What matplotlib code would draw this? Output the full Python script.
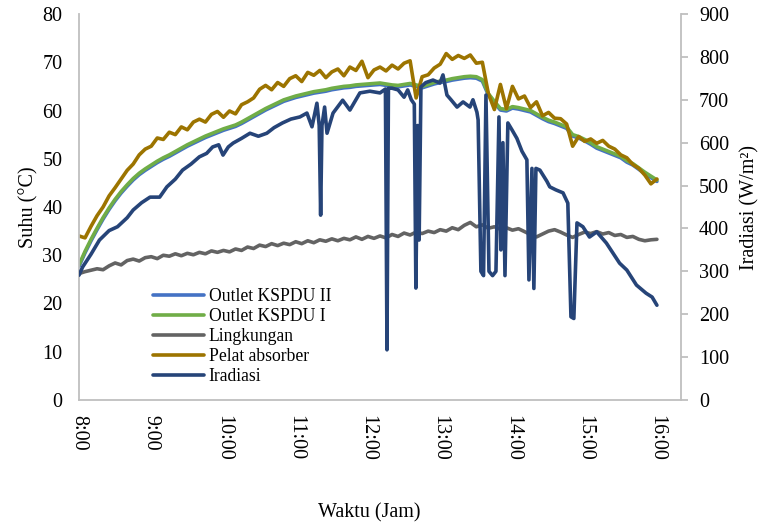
import matplotlib
matplotlib.use('Agg')
import matplotlib.pyplot as plt

plt.rcParams['font.family'] = ['Liberation Serif', 'DejaVu Serif']

# minutes after 8:00, 5 minute steps for the temperature series
t5 = list(range(0, 481, 5))

outlet2 = [27.7, 30.5, 33.0, 35.3, 37.5, 39.5, 41.3, 42.9, 44.3, 45.6, 46.7, 47.6,
           48.4, 49.2, 49.9, 50.5, 51.2, 51.9, 52.6, 53.2, 53.8, 54.4, 54.9, 55.4,
           55.9, 56.3, 56.7, 57.3, 58.0, 58.7, 59.4, 60.1, 60.7, 61.3, 61.9, 62.3,
           62.7, 63.0, 63.3, 63.6, 63.8, 64.0, 64.3, 64.5, 64.7, 64.8, 65.0, 65.1,
           65.2, 65.3, 65.4, 65.2, 65.0, 64.9, 65.1, 65.3, 65.0, 64.7, 65.1, 65.5,
           65.8, 66.0, 66.3, 66.5, 66.7, 66.8, 66.7, 66.1, 63.2, 61.6, 60.1, 59.9,
           60.5, 60.3, 60.0, 59.7, 59.0, 58.3, 57.7, 57.3, 56.8, 56.3, 54.7, 54.3,
           53.7, 53.0, 52.2, 51.7, 51.2, 50.7, 50.2, 49.3, 48.7, 47.8, 46.9, 46.1,
           45.3]

outlet1 = [28.0, 30.8, 33.3, 35.6, 37.8, 39.8, 41.6, 43.2, 44.6, 45.9, 47.0, 47.9,
           48.7, 49.5, 50.2, 50.8, 51.5, 52.2, 52.9, 53.5, 54.1, 54.7, 55.2, 55.7,
           56.2, 56.6, 57.0, 57.6, 58.3, 59.0, 59.7, 60.4, 61.0, 61.6, 62.2, 62.6,
           63.0, 63.3, 63.6, 63.9, 64.1, 64.3, 64.6, 64.8, 65.0, 65.1, 65.3, 65.4,
           65.5, 65.6, 65.7, 65.5, 65.3, 65.2, 65.4, 65.6, 65.3, 65.0, 65.4, 65.8,
           66.1, 66.3, 66.6, 66.8, 67.0, 67.1, 67.0, 66.4, 63.5, 61.9, 60.4, 60.2,
           60.8, 60.6, 60.3, 60.0, 59.3, 58.6, 58.0, 57.6, 57.1, 56.6, 55.0, 54.6,
           54.0, 53.3, 52.5, 52.0, 51.5, 51.0, 50.5, 49.6, 49.0, 48.1, 47.2, 46.4,
           45.6]

lingkungan = [26.2, 26.6, 26.9, 27.2, 27.0, 27.8, 28.4, 28.0, 28.9, 29.2, 28.8, 29.5,
              29.7, 29.3, 30.0, 29.8, 30.3, 29.9, 30.4, 30.1, 30.6, 30.3, 30.9, 30.6,
              31.0, 30.7, 31.3, 31.0, 31.7, 31.4, 32.1, 31.8, 32.4, 32.0, 32.5, 32.2,
              32.8, 32.4, 33.0, 32.6, 33.2, 32.9, 33.4, 33.0, 33.5, 33.2, 33.8, 33.3,
              33.9, 33.5, 34.0, 33.6, 34.3, 33.9, 34.6, 34.2, 34.8, 34.5, 35.0, 34.7,
              35.3, 35.0, 35.7, 35.3, 36.2, 36.8, 35.9, 36.3, 35.6, 35.9, 35.4, 35.7,
              35.2, 35.5, 34.9, 34.3, 33.8, 34.4, 35.0, 35.3, 34.8, 34.2, 33.7, 34.3,
              34.8, 34.5, 34.9, 34.4, 34.7, 34.1, 34.3, 33.7, 33.9, 33.3, 33.0, 33.2,
              33.3]

pelat = [34.0, 33.6, 36.0, 38.2, 40.0, 42.3, 44.0, 45.8, 47.6, 48.9, 50.8, 52.0,
         52.6, 54.3, 54.0, 55.5, 55.0, 56.6, 56.0, 57.6, 58.2, 57.6, 59.2, 59.8,
         58.6, 59.9, 59.3, 61.2, 61.8, 62.6, 64.4, 65.2, 64.3, 65.8, 65.0, 66.6,
         67.2, 66.0, 67.9, 67.3, 68.3, 66.8, 68.0, 68.6, 67.2, 69.0, 68.3, 70.2,
         66.8, 68.4, 69.0, 68.2, 69.4, 68.6, 69.8, 70.3, 62.6, 67.0, 67.4, 68.8,
         69.6, 71.8, 70.6, 71.4, 70.8, 71.5, 69.8, 70.0, 63.5, 60.2, 65.4, 60.4,
         65.0, 62.4, 63.0, 60.6, 61.8, 58.9, 59.6, 58.4, 58.3, 57.2, 52.6, 54.6,
         53.6, 54.1, 53.2, 53.8, 52.6, 52.0, 50.8, 50.2, 48.8, 48.0, 46.6, 44.8,
         45.8]

# irradiance, minutes after 8:00 and W/m2
irr_t = [0, 3, 10, 17, 25, 32, 40, 45, 52, 59, 67, 73, 80, 86, 93, 100, 106, 111,
         116, 119.6, 124, 128, 135, 142, 149, 156, 162, 169, 176, 183.5, 189.3,
         193.5, 197.6, 199.5, 200.7, 201.8, 204, 206, 211, 219, 225, 233.3, 241.6,
         250, 254.5, 255.8, 257, 260, 265, 270, 273, 276, 278.5, 279.8, 281.3,
         282.5, 284, 288, 294, 299.8, 302.3, 305.6, 309, 314, 319, 324.7, 327.2,
         330.5, 331.5, 333.8, 336, 338, 340.5, 343.5, 346.3, 348.8, 350.4, 352.1,
         353.8, 356.2, 359.6, 363.7, 367.9, 372, 373.7, 376.2, 377.8, 379.5, 382.8,
         388.6, 391, 396, 402, 406, 408.6, 411, 413.6, 418.5, 424, 430, 438, 449,
         455, 463, 471, 476, 480]
irr_v = [291, 310, 340, 373, 395, 404, 425, 443, 460, 473, 473, 497, 515, 536, 550,
         567, 575, 590, 595, 571, 590, 599, 610, 622, 615, 622, 635, 646, 655, 660,
         669, 637, 692, 640, 431, 640, 683, 622, 669, 699, 676, 716, 720, 716, 725,
         117, 727, 727, 723, 706, 723, 700, 690, 261, 640, 373, 730, 740, 746, 739,
         758, 711, 700, 683, 695, 683, 700, 671, 653, 300, 290, 711, 300, 290, 300,
         660, 350, 600, 290, 646, 630, 610, 580, 560, 280, 540, 260, 540, 536, 510,
         497, 490, 483, 459, 194, 190, 413, 404, 380, 392, 366, 319, 303, 268, 249,
         240, 221]

tick_pos = [0, 60, 120, 180, 240, 300, 360, 420, 480]
tick_lbl = ['8:00', '9:00', '10:00', '11:00', '12:00', '13:00', '14:00', '15:00', '16:00']

W, H = 759, 529
fig = plt.figure(figsize=(W / 100, H / 100), dpi=100)
ax = fig.add_axes([79 / W, 1 - 400 / H, (681 - 79) / W, (400 - 14) / H])
ax2 = ax.twinx()

lw = 2.6
kw = dict(lw=lw, solid_joinstyle='round', solid_capstyle='round')
l1, = ax.plot(t5, outlet2, color='#4472C4', label='Outlet KSPDU II', **kw)
l2, = ax.plot(t5, outlet1, color='#70AD47', label='Outlet KSPDU I', **kw)
l3, = ax.plot(t5, lingkungan, color='#636363', label='Lingkungan', **kw)
l4, = ax.plot(t5, pelat, color='#9C7400', label='Pelat absorber', **kw)
l5, = ax2.plot(irr_t, irr_v, color='#264478', label='Iradiasi', **kw)

ax.set_xlim(0, 500)
ax.set_ylim(0, 80)
ax2.set_ylim(0, 900)
ax.set_yticks(range(0, 81, 10))
ax2.set_yticks(range(0, 901, 100))
ax.set_xticks(tick_pos)
ax.set_xticklabels(tick_lbl, rotation=-90)

grey = '#BFBFBF'
for a in (ax, ax2):
    a.spines['top'].set_visible(False)
    for s in a.spines.values():
        s.set_color(grey)
        s.set_linewidth(1.3)
ax.spines['right'].set_visible(False)
ax2.spines['left'].set_visible(False)
ax2.spines['bottom'].set_visible(False)

fs = 14.5
ax.tick_params(axis='y', length=0, pad=12, labelsize=fs)
ax.tick_params(axis='x', length=0, pad=11, labelsize=fs)
ax2.tick_params(axis='y', length=5, width=1.3, color=grey, pad=8, labelsize=fs)

ax.set_ylabel('Suhu (°C)', fontsize=fs, labelpad=3)
ax2.set_ylabel('Iradiasi (W/m²)', fontsize=fs, labelpad=8)
fig.text(369 / W, 1 - 513 / H, 'Waktu (Jam)', ha='center', va='center', fontsize=fs)

fig.legend(handles=[l1, l2, l3, l4, l5], loc='upper left',
           bbox_to_anchor=(153 / W, 1 - 288 / H), frameon=False,
           fontsize=12.7, handlelength=2.9, handletextpad=0.25,
           labelspacing=0.17, borderpad=0, borderaxespad=0)

fig.savefig('out.png', dpi=100)
